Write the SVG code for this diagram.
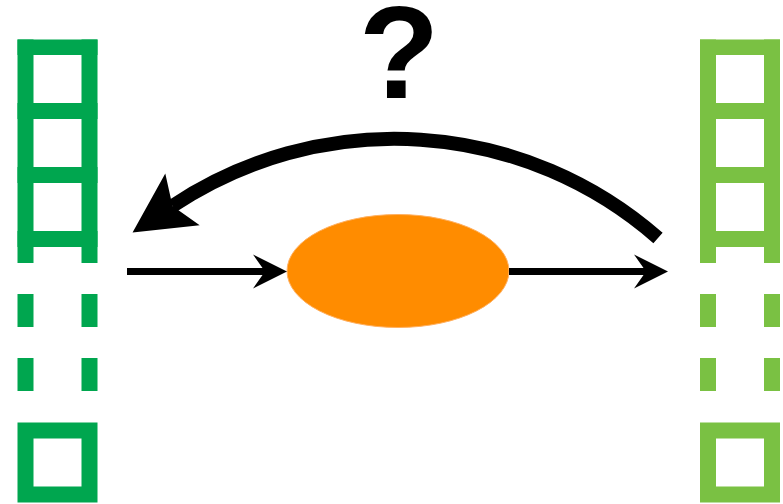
<svg xmlns="http://www.w3.org/2000/svg" width="783" height="504" viewBox="0 0 783 504">
<style>
.dark{fill:#00A64F}
.light{fill:#7AC143}
.conn{fill:none;stroke:#000}
.thin{stroke-width:7}
.thick{stroke-width:14}
.q{font-family:"Liberation Sans",Arial,sans-serif;font-weight:bold;font-size:132px;fill:#000}
</style>
<defs>
<marker id="head" markerUnits="userSpaceOnUse" viewBox="-40 -20 44 40" markerWidth="44" markerHeight="40" refX="-22" refY="0" orient="auto" overflow="visible">
<path d="M0,0 L-34,-17 L-22,0 L-34,17 Z" fill="#000"/>
</marker>
<marker id="bighead" markerUnits="userSpaceOnUse" viewBox="-70 -40 80 80" markerWidth="80" markerHeight="80" refX="-48" refY="0" orient="auto" overflow="visible">
<path d="M0,0 L-60,-31 L-48,0 L-60,31 Z" fill="#000"/>
</marker>
<g id="strip">
<rect x="0" y="0" width="16" height="223.5"/>
<rect x="64" y="0" width="16" height="223.5"/>
<rect x="0" y="0" width="80" height="15.5"/>
<rect x="0" y="63.5" width="80" height="16"/>
<rect x="0" y="127.5" width="80" height="16"/>
<rect x="0" y="191.5" width="80" height="16"/>
<rect x="0" y="254.5" width="16" height="33"/>
<rect x="64" y="254.5" width="16" height="33"/>
<rect x="0" y="318.5" width="16" height="33"/>
<rect x="64" y="318.5" width="16" height="33"/>
<path d="M0,383 h80 v80 h-80 Z M16,399 v48 h48 v-48 Z" fill-rule="evenodd"/>
</g>
</defs>
<g id="left-strip" class="dark"><use href="#strip" x="17.5" y="39.5"/></g>
<g id="right-strip" class="light"><use href="#strip" x="700" y="39.5"/></g>
<g id="process"><ellipse cx="398" cy="271" rx="111" ry="56.5" fill="#FF8C00" stroke="#FFB060" stroke-width="1"/></g>
<g id="question"><text class="q" x="399" y="98" text-anchor="middle">?</text></g>
<g id="connectors">
<path class="conn thin" d="M127,271.5 H265" marker-end="url(#head)"/>
<path class="conn thin" d="M509,271.5 H646" marker-end="url(#head)"/>
<path class="conn thick" d="M658,238 A400,400 0 0 0 172.5,206" marker-end="url(#bighead)"/>
</g>
</svg>
